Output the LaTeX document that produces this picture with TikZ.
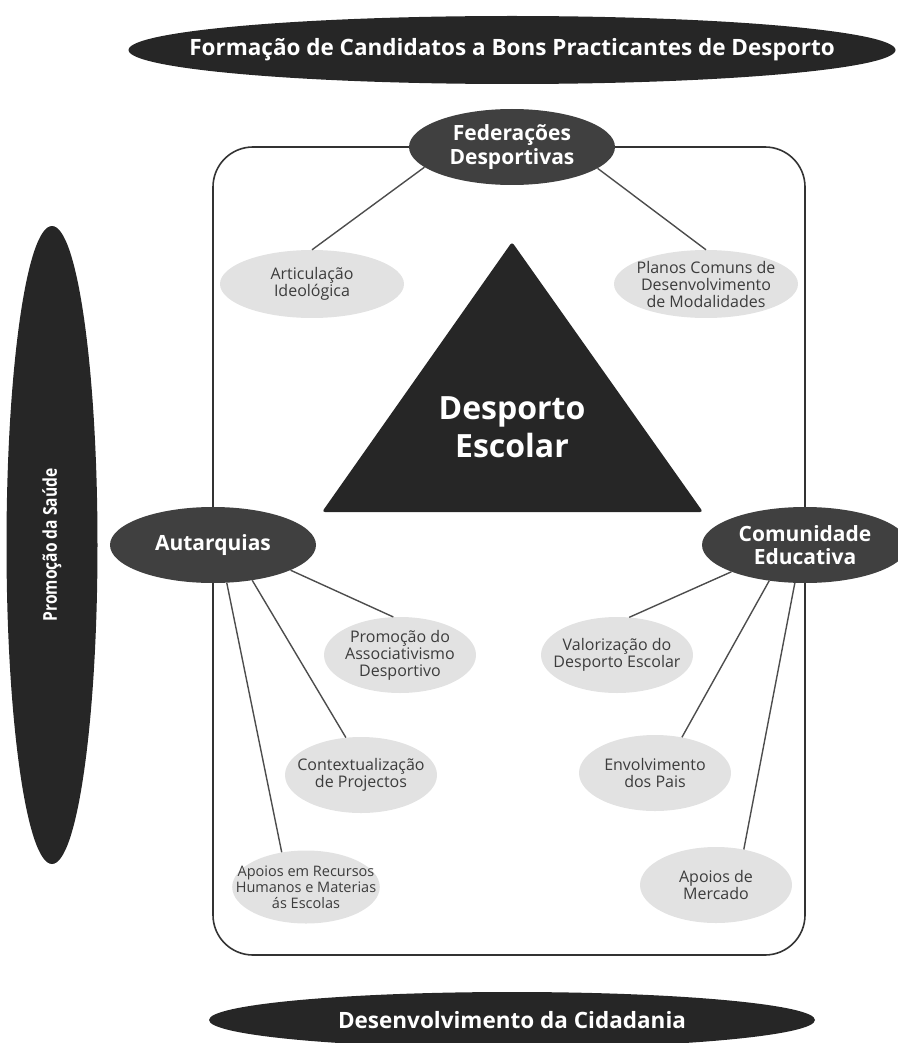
\documentclass[tikz,border=0pt]{standalone}
\usepackage{fontspec}
\setmainfont{Open Sans}
\newfontfamily\narrowfont[FakeStretch=0.82]{Open Sans}
\usetikzlibrary{shapes.geometric,positioning,backgrounds}

\definecolor{darkfill}{HTML}{262626}
\definecolor{hubfill}{HTML}{404040}
\definecolor{leaffill}{HTML}{E2E2E2}
\definecolor{leafink}{HTML}{3C3C3C}
\definecolor{wirecol}{HTML}{4D4D4D}

\begin{document}
\begin{tikzpicture}[x=1pt,y=-1pt,on grid,
    banner/.style={ellipse,fill=darkfill,text=white,inner sep=0pt,
        font=\fontsize{22.5}{25}\selectfont\bfseries},
    hub/.style={ellipse,fill=hubfill,text=white,align=center,
        font=\fontsize{21}{23.5}\selectfont\bfseries,
        minimum width=206pt,minimum height=76pt,inner xsep=-12pt,inner ysep=-6pt},
    leaf/.style={ellipse,fill=leaffill,text=leafink,align=center,
        font=\fontsize{16}{17}\selectfont,
        minimum width=152pt,minimum height=76pt,inner xsep=-12pt,inner ysep=-6pt},
    link/.style={draw=wirecol,line width=1.4pt},
    frame/.style={draw=black!80,line width=1.6pt,rounded corners=40pt}]
    \useasboundingbox (0,0) rectangle (897,1043);

    \node[font=\fontsize{32}{38}\selectfont\bfseries,text=white,align=center] (esc) at (512,427) {Desporto\\Escolar};
    \node[hub] (fed) [above=280pt of esc] {Federações\\Desportivas};
    \node[hub] (aut) [below left=118pt and 299pt of esc] {Autarquias};
    \node[hub] (com) [below right=118pt and 293pt of esc] {Comunidade\\Educativa};

    \node[banner,minimum width=767pt,minimum height=68pt,inner xsep=-70pt] (form) [above=97pt of fed] {Formação de Candidatos a Bons Practicantes de Desporto};
    \node[banner,minimum width=606pt,minimum height=56pt,inner xsep=-20pt] (cid) [below=593pt of esc] {Desenvolvimento da Cidadania};
    \node[banner,rotate=90,minimum width=638pt,minimum height=91pt,
        font=\narrowfont\bfseries\fontsize{19}{22}\selectfont] (saude) [left=161pt of aut] {Promoção da Saúde};

    \node[leaf,minimum width=184pt,minimum height=68pt] (art) [below left=137pt and 200pt of fed] {Articulação\\Ideológica};
    \node[leaf,minimum width=184pt,minimum height=68pt] (plan) [below right=137pt and 194pt of fed] {Planos Comuns de\\Desenvolvimento\\de Modalidades};

    \node[leaf] (promo) [below right=110pt and 187pt of aut] {Promoção do\\Associativismo\\Desportivo};
    \node[leaf] (ctx) [below right=230pt and 148pt of aut] {Contextualização\\de Projectos};
    \node[leaf,minimum width=147pt,minimum height=73pt,inner xsep=-18pt,
        font=\fontsize{14.5}{16}\selectfont] (apoio) [below right=342pt and 93pt of aut] {Apoios em Recursos\\Humanos e Materias\\ás Escolas};

    \node[leaf] (val) [below left=110pt and 188pt of com] {Valorização do\\Desporto Escolar};
    \node[leaf] (env) [below left=228pt and 150pt of com] {Envolvimento\\dos Pais};
    \node[leaf] (merc) [below left=340pt and 89pt of com] {Apoios de\\Mercado};

    \path[link]
    (fed.193) edge (art.north)
    (fed.346) edge (plan.north)
    (aut.342) edge (promo.100)
    (aut.318) edge (ctx.112)
    (aut.290) edge (apoio.125)
    (com.200) edge (val.72)
    (com.225) edge (env.53)
    (com.255) edge (merc.52);

    \begin{scope}[on background layer]
        \draw[frame] (aut.center |- fed.center) rectangle ([yshift=-410pt]com.center);
        \fill[darkfill,rounded corners=3pt,shift={(esc)}] (0,-185) -- (191,85) -- (-190,85) -- cycle;
    \end{scope}
\end{tikzpicture}
\end{document}
